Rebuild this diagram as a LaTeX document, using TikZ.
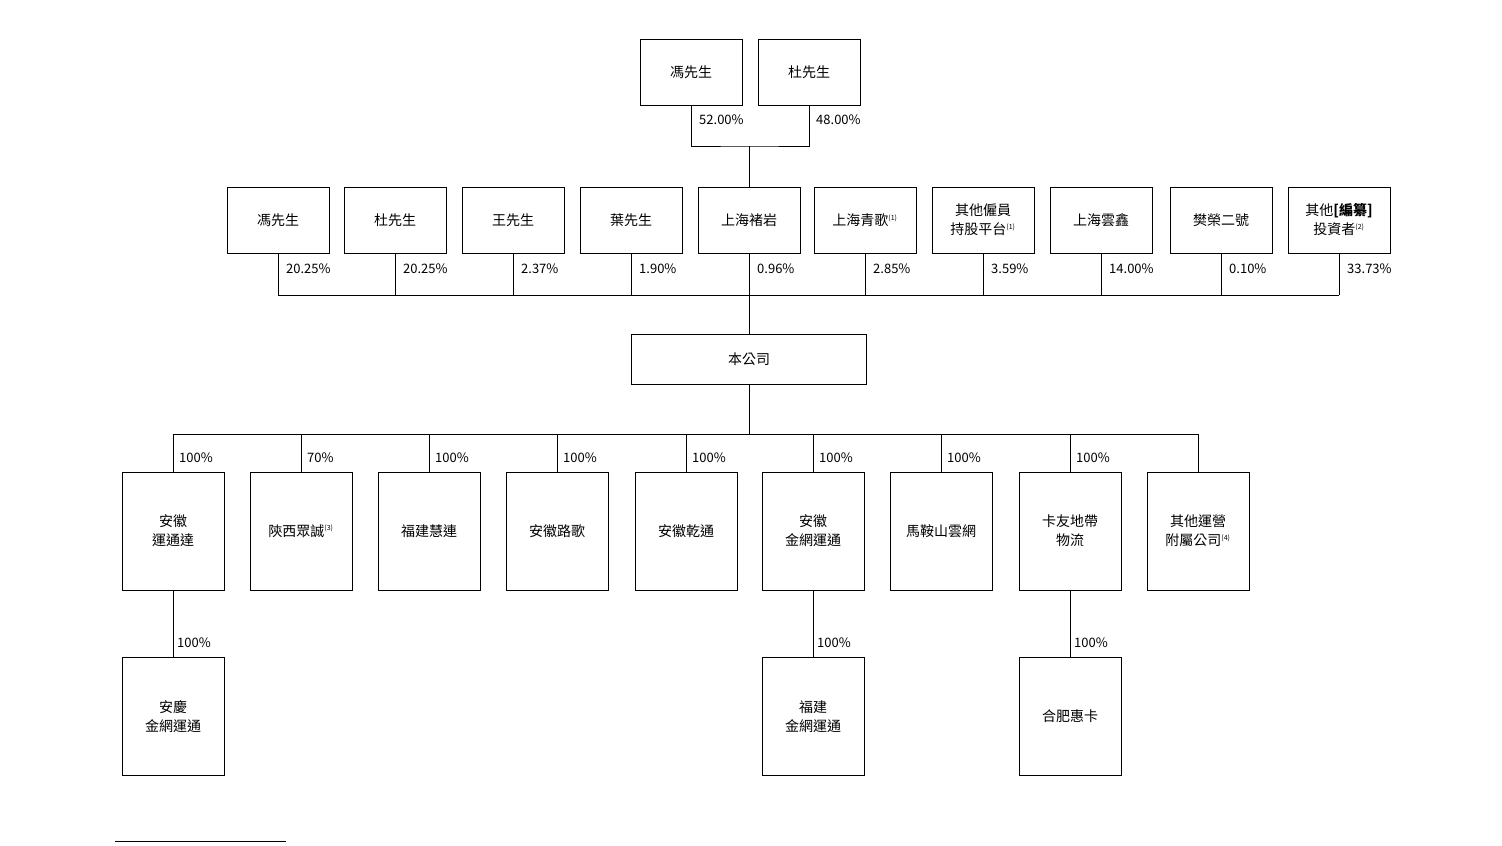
\documentclass[tikz,border=0pt]{standalone}
\usepackage{fontspec}
\setmainfont{Noto Sans CJK TC}
\usetikzlibrary{positioning}
\newcommand{\fn}[1]{\textsuperscript{\scriptsize(#1)}}

\begin{document}
\begin{tikzpicture}[x=1pt,y=-1pt,
    ent/.style={draw, line width=0.8pt, minimum width=102pt, minimum height=66pt,
                align=center, font=\fontsize{14}{19}\selectfont},
    sub/.style={ent, minimum height=118pt},
    pct/.style={font=\fontsize{13}{15}\selectfont, anchor=west, inner sep=2pt},
    ln/.style={line width=0.8pt}
]
\useasboundingbox (0,0) rectangle (1502,846);

% shareholders of the top holding
\node[ent] (f0) at (691,72.5) {馮先生};
\node[ent] (d0) at (809,72.5) {杜先生};

% direct shareholders
\node[ent] (s1) at (278,220) {馮先生};
\node[ent] (s2) at (395,220) {杜先生};
\node[ent] (s3) at (513,220) {王先生};
\node[ent] (s4) at (631,220) {葉先生};
\node[ent] (s5) at (749,220) {上海褚岩};
\node[ent] (s6) at (865,220) {上海青歌\fn{1}};
\node[ent] (s7) at (983,220) {其他僱員\\持股平台\fn{1}};
\node[ent] (s8) at (1101,220) {上海雲鑫};
\node[ent] (s9) at (1221,220) {樊榮二號};
\node[ent] (s10) at (1339,220) {其他\textbf{[編纂]}\\投資者\fn{2}};

\node[ent, minimum width=235pt, minimum height=50pt] (co) at (749,359) {本公司};

% subsidiaries
\node[sub] (c1) at (173,531) {安徽\\運通達};
\node[sub] (c2) at (301,531) {陝西眾誠\fn{3}};
\node[sub] (c3) at (429,531) {福建慧連};
\node[sub] (c4) at (557,531) {安徽路歌};
\node[sub] (c5) at (686,531) {安徽乾通};
\node[sub] (c6) at (813,531) {安徽\\金網運通};
\node[sub] (c7) at (941,531) {馬鞍山雲網};
\node[sub] (c8) at (1070,531) {卡友地帶\\物流};
\node[sub] (c9) at (1198,531) {其他運營\\附屬公司\fn{4}};

\node[sub] (g1) at (173,716.5) {安慶\\金網運通};
\node[sub] (g6) at (813,716.5) {福建\\金網運通};
\node[sub] (g8) at (1070,716.5) {合肥惠卡};

% top connectors
\draw[ln] (f0.south) |- (749,146) -| (d0.south);
\draw[ln] (749,146) -- (s5.north);
\node[pct] at (697,120) {52.00\%};
\node[pct] at (814,120) {48.00\%};

% shareholder bus
\foreach \n/\p in {s1/20.25,s2/20.25,s3/2.37,s4/1.90,s5/0.96,s6/2.85,s7/3.59,s8/14.00,s9/0.10,s10/33.73}{
  \draw[ln] (\n.south) -- (\n.south |- 0,295);
  \node[pct] at ([xshift=6pt,yshift=-15pt]\n.south) {\p\%};
}
\draw[ln] (s1.south |- 0,295) -- (s10.south |- 0,295);
\draw[ln] (s5.south |- 0,295) -- (co.north);

% subsidiary bus
\draw[ln] (co.south) -- (co.south |- 0,434);
\draw[ln] (c1.north |- 0,434) -- (c9.north |- 0,434);
\foreach \n/\p in {c1/100,c2/70,c3/100,c4/100,c5/100,c6/100,c7/100,c8/100}{
  \draw[ln] (\n.north |- 0,434) -- (\n.north);
  \node[pct] at ([xshift=4pt,yshift=14pt]\n.north) {\p\%};
}
\draw[ln] (c9.north |- 0,434) -- (c9.north);

\foreach \a/\b in {c1/g1,c6/g6,c8/g8}{
  \draw[ln] (\a.south) -- (\b.north);
  \node[pct] at ([xshift=2pt,yshift=14pt]\b.north) {100\%};
}

% footnote rule
\draw[line width=1pt] (115,841) -- (286,841);
\end{tikzpicture}
\end{document}
